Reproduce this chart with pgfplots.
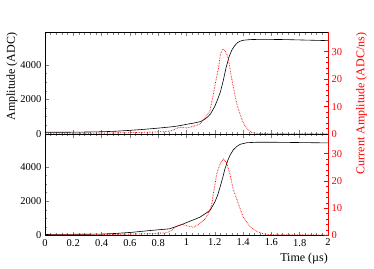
\documentclass[border=0pt]{standalone}
\usepackage{pgfplots}
\pgfplotsset{compat=1.18}
\usepackage{fontspec}
\setmainfont{Liberation Serif}

\pgfplotstableread{
t amp
0 100
0.1 100
0.2 105
0.3 115
0.4 130
0.5 160
0.6 210
0.7 270
0.8 340
0.9 420
0.95 480
1.0 560
1.05 630
1.1 720
1.13 860
1.15 990
1.17 1170
1.2 1600
1.22 2000
1.24 2450
1.26 3100
1.28 3850
1.30 4450
1.32 4850
1.34 5100
1.36 5280
1.38 5370
1.40 5420
1.45 5460
1.5 5470
1.6 5470
1.7 5460
1.8 5440
1.9 5420
2.0 5400
}\topamp

\pgfplotstableread{
t cur
0 0.3
0.2 0.3
0.4 0.3
0.6 0.5
0.7 0.6
0.8 0.8
0.86 0.9
0.9 1.3
0.95 2.5
1.0 2.2
1.05 2.8
1.095 3.6
1.13 6
1.166 8.5
1.19 14.6
1.21 20
1.225 23.7
1.24 29
1.255 31
1.27 30.5
1.285 29
1.296 27.4
1.31 23
1.32 20
1.343 14
1.36 10
1.378 7.3
1.395 4.8
1.413 3
1.435 1.6
1.46 0.6
1.5 0.2
1.6 0.1
2.0 0.1
}\topcur

\pgfplotstableread{
t amp
0 60
0.2 70
0.39 80
0.5 120
0.62 190
0.74 290
0.88 390
0.954 600
1.025 836
1.095 1070
1.166 1460
1.20 1950
1.22 2350
1.237 2820
1.255 3350
1.272 3900
1.29 4350
1.307 4680
1.33 5000
1.355 5200
1.38 5330
1.425 5420
1.5 5450
1.6 5450
1.8 5430
2.0 5410
}\botamp

\pgfplotstableread{
t cur
0 0.2
0.4 0.3
0.6 0.5
0.75 0.7
0.86 1.0
0.9 2
0.93 3.5
0.966 4.1
1.0 3.6
1.05 3.0
1.095 4.4
1.13 6
1.154 8
1.177 11
1.19 15.3
1.213 22.5
1.237 26.2
1.26 28
1.284 26.7
1.307 22.5
1.33 17
1.366 11.7
1.40 6.8
1.449 3.2
1.5 1.4
1.55 0.5
1.6 0.3
2.0 0.2
}\botcur

\pgfplotsset{
  rootstyle/.style={
    scale only axis, width=283pt, height=101.5pt,
    xmin=0, xmax=2,
    xtick={0,0.2,...,2.01}, minor x tick num=4,
    tick align=inside,
    major tick length=4pt, minor tick length=2.2pt,
    tick style={line width=0.5pt},
    axis line style={line width=0.7pt},
    tick label style={font=\fontsize{10.5}{12}\selectfont},
    /pgf/number format/assume math mode=true,
    scaled y ticks=false,
    every axis plot/.append style={line width=0.6pt},
  },
  leftax/.style={rootstyle,
    ymin=0,
    ytick={0,2000,4000}, minor y tick num=3,
    ytick pos=left,
    yticklabel style={/pgf/number format/.cd, fixed, 1000 sep={}},
  },
  rightax/.style={rootstyle,
    axis x line=none, axis y line*=right,
    ymin=0,
    ytick={0,10,20,30}, minor y tick num=4,
    y axis line style={red, line width=0.7pt},
    every y tick/.style={red},
    every minor y tick/.style={red},
    yticklabel style={red},
    ylabel style={red},
  },
}

\begin{document}
\begin{tikzpicture}
\useasboundingbox (0,0) rectangle (374pt,268pt);

% top panel
\begin{axis}[leftax, at={(45pt,134pt)}, anchor=south west,
  ymax=5870, xticklabels={},
  ylabel={Amplitude (ADC)},
  ylabel style={font=\fontsize{12}{14}\selectfont, at={(axis description cs:-0.117,1)}, anchor=east, inner sep=0pt},
]
\addplot[black, sharp plot] table[x=t, y=amp] {\topamp};
\end{axis}
\begin{axis}[rightax, at={(45pt,134pt)}, anchor=south west,
  ymax=37,
  ylabel={Current Amplitude (ADC/ns)},
  ylabel style={font=\fontsize{12}{14}\selectfont, at={(axis description cs:1.118,1)}, anchor=east, inner sep=0pt},
]
\addplot[red, densely dotted, line width=0.8pt] table[x=t, y=cur] {\topcur};
\end{axis}

% bottom panel
\begin{axis}[leftax, at={(45pt,32.5pt)}, anchor=south west,
  ymax=5930,
  xlabel={Time (µs)},
  xlabel style={font=\fontsize{12}{14}\selectfont, at={(axis description cs:1,-0.17)}, anchor=north east, inner sep=0pt},
]
\addplot[black, sharp plot] table[x=t, y=amp] {\botamp};
\end{axis}
\begin{axis}[rightax, at={(45pt,32.5pt)}, anchor=south west,
  ymax=37.2,
]
\addplot[red, densely dotted, line width=0.8pt] table[x=t, y=cur] {\botcur};
\end{axis}
\end{tikzpicture}
\end{document}
